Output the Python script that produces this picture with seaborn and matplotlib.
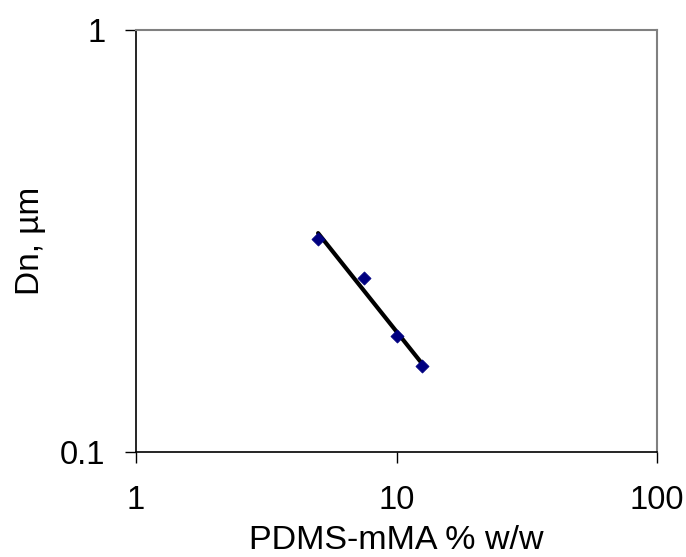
import numpy as np
import pandas as pd
import matplotlib
matplotlib.use("Agg")
import matplotlib.pyplot as plt
import matplotlib.ticker as mticker
import seaborn as sns

# Data
pdms = [5.0, 7.5, 10.0, 12.5]          # PDMS-mMA % w/w
dn = [0.319, 0.259, 0.1886, 0.160]     # Dn, um
x_ticks = [1, 10, 100]
y_ticks = [0.1, 1]

df = pd.DataFrame({"x": pdms, "y": dn})

# Power-law trend line fitted to the data (log-log least squares)
slope, intercept = np.polyfit(np.log10(pdms), np.log10(dn), 1)
xfit = np.array([min(pdms), max(pdms)])
fit = pd.DataFrame({"x": xfit, "y": 10 ** (intercept + slope * np.log10(xfit))})

sns.set_theme(style="white")
plt.rcParams["font.family"] = ["Liberation Sans", "DejaVu Sans"]

fig = plt.figure(figsize=(6.86, 5.57), dpi=100)
ax = fig.add_axes([136 / 686, 1 - 452 / 557, (657 - 136) / 686, (452 - 30) / 557])

sns.lineplot(data=fit, x="x", y="y", ax=ax, color="black", linewidth=3,
             zorder=2, solid_capstyle="round")
sns.scatterplot(data=df, x="x", y="y", ax=ax, marker="D", color="#000080",
                edgecolor="#000080", linewidth=0.5, s=45, zorder=3)

ax.set_xscale("log")
ax.set_yscale("log")
ax.set_xlim(1, 100)
ax.set_ylim(0.1, 1)
ax.xaxis.set_major_locator(mticker.FixedLocator(x_ticks))
ax.yaxis.set_major_locator(mticker.FixedLocator(y_ticks))
ax.xaxis.set_minor_locator(mticker.NullLocator())
ax.yaxis.set_minor_locator(mticker.NullLocator())
fmt = mticker.FuncFormatter(lambda v, p: f"{v:g}")
ax.xaxis.set_major_formatter(fmt)
ax.yaxis.set_major_formatter(fmt)

ax.tick_params(axis="both", which="major", direction="out", length=8, width=1,
               color="black", labelsize=23.5, pad=14, labelcolor="black")
ax.tick_params(axis="x", pad=16)
ax.tick_params(bottom=True, left=True)

ax.set_xlabel("PDMS-mMA % w/w", fontsize=24.5, color="black", labelpad=6)
ax.set_ylabel("Dn, µm", fontsize=24, color="black", labelpad=10)

for side in ["left", "bottom"]:
    ax.spines[side].set_color("black")
    ax.spines[side].set_linewidth(1.2)
for side in ["top", "right"]:
    ax.spines[side].set_color("#808080")
    ax.spines[side].set_linewidth(1.5)
ax.set_facecolor("white")
fig.patch.set_facecolor("white")

fig.savefig("out.png", dpi=100, facecolor="white")
